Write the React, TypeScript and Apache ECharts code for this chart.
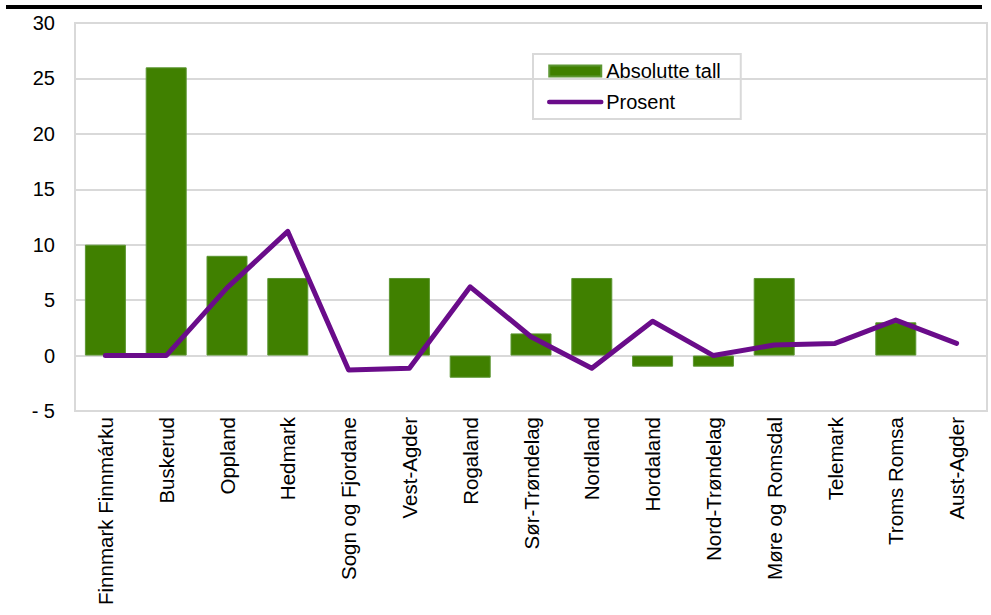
import React, { useEffect, useRef } from "react";
import * as echarts from "echarts";

const categories = [
  "Finnmark Finnmárku",
  "Buskerud",
  "Oppland",
  "Hedmark",
  "Sogn og Fjordane",
  "Vest-Agder",
  "Rogaland",
  "Sør-Trøndelag",
  "Nordland",
  "Hordaland",
  "Nord-Trøndelag",
  "Møre og Romsdal",
  "Telemark",
  "Troms Romsa",
  "Aust-Agder",
];

const absoluttTall: (number | null)[] = [10, 26, 9, 7, null, 7, -2, 2, 7, -1, -1, 7, null, 3, null];
const prosent: number[] = [0, 0, 6.1, 11.2, -1.3, -1.15, 6.2, 1.7, -1.15, 3.1, 0.0, 0.95, 1.1, 3.2, 1.1];

const yMin = -5;
const yMax = 30;
const yStep = 5;

export default function App() {
  const ref = useRef<HTMLDivElement>(null);
  useEffect(() => {
    if (!ref.current) return;
    const chart = echarts.init(ref.current, null, { renderer: "svg" });
    const font = "'Liberation Sans', Arial, sans-serif";
    chart.setOption({
      animation: false,
      backgroundColor: "#ffffff",
      textStyle: { fontFamily: font, color: "#000" },
      graphic: [
        {
          type: "rect",
          shape: { x: 6, y: 5, width: 976, height: 4 },
          style: { fill: "#000" },
        },
      ],
      grid: {
        left: 75,
        right: 4,
        top: 23,
        bottom: 204,
        show: true,
        borderColor: "#D9D9D9",
        borderWidth: 2,
        containLabel: false,
      },
      legend: {
        left: 533,
        top: 54,
        orient: "vertical",
        borderColor: "#D9D9D9",
        borderWidth: 2,
        padding: [7, 20, 7, 14],
        itemGap: 11,
        itemWidth: 52,
        itemHeight: 11,
        textStyle: { fontFamily: font, fontSize: 20, color: "#000", padding: [0, 0, 0, 0] },
        data: [
          { name: "Absolutte tall", icon: "rect" },
          {
            name: "Prosent",
            itemStyle: { opacity: 0 },
            lineStyle: { width: 4.5, cap: "round", color: "#6A0C8A" },
          },
        ],
      },
      xAxis: {
        type: "category",
        data: categories,
        axisLine: { show: true, lineStyle: { color: "#D9D9D9", width: 2 } },
        axisTick: { show: false },
        axisLabel: {
          interval: 0,
          rotate: 90,
          margin: 6,
          fontSize: 20.5,
          fontFamily: font,
          color: "#000",
        },
      },
      yAxis: {
        type: "value",
        min: yMin,
        max: yMax,
        interval: yStep,
        axisLine: { show: false },
        axisTick: { show: false },
        splitLine: { show: true, lineStyle: { color: "#D9D9D9", width: 2 } },
        axisLabel: {
          margin: 20,
          fontSize: 20,
          fontFamily: font,
          color: "#000",
          formatter: (v: number) => (v < 0 ? "- " + Math.abs(v) : String(v)),
        },
      },
      series: [
        {
          name: "Absolutte tall",
          type: "bar",
          data: absoluttTall,
          barWidth: 41,
          itemStyle: { color: "#408000", borderColor: "#5C9632", borderWidth: 1 },
        },
        {
          name: "Prosent",
          type: "line",
          data: prosent,
          symbol: "none",
          lineStyle: { color: "#6A0C8A", width: 5, cap: "round", join: "round" },
          itemStyle: { color: "#6A0C8A" },
          z: 3,
        },
      ],
    });
    return () => chart.dispose();
  }, []);
  return (
    <div
      ref={ref}
      style={{ position: "absolute", left: 0, top: 0, width: 991, height: 615 }}
    />
  );
}
